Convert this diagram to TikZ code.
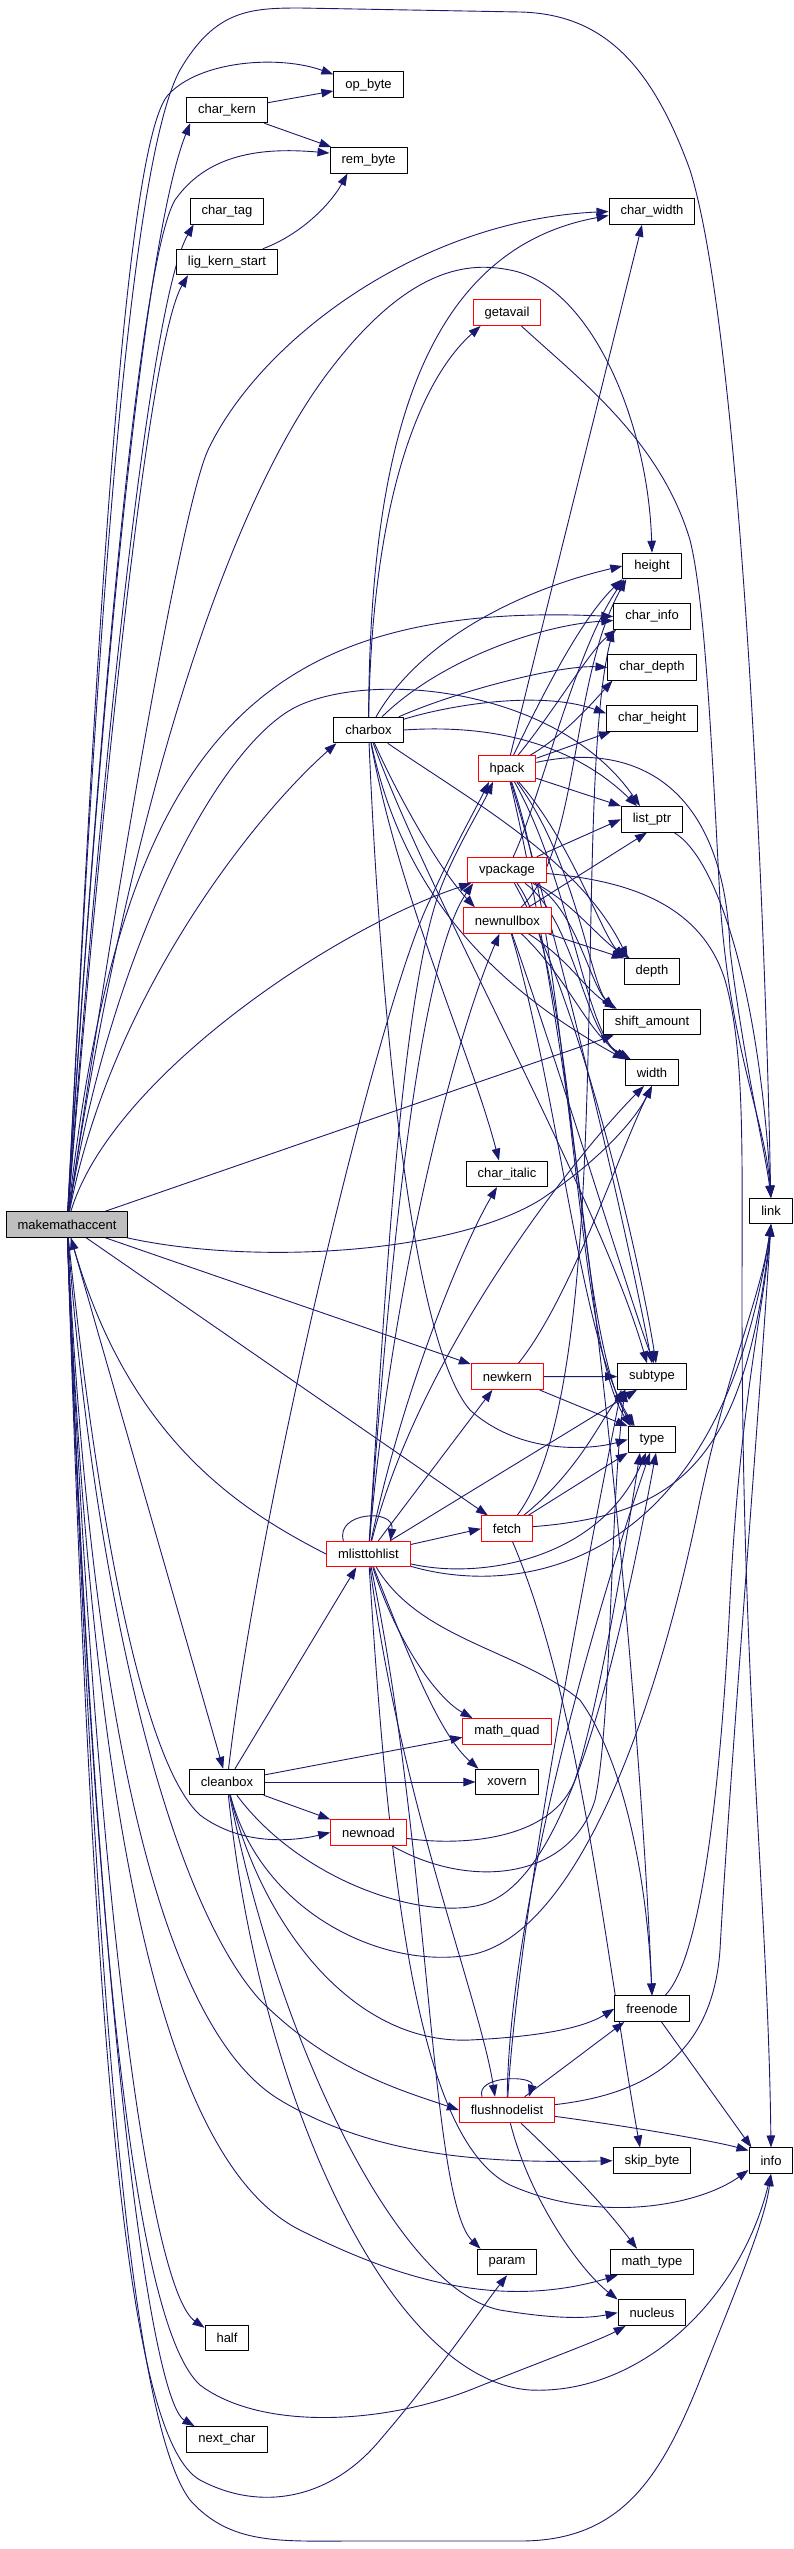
\documentclass[tikz,border=0pt]{standalone}
\usepackage{fontspec}
\setmainfont{Liberation Sans}
\usetikzlibrary{arrows.meta,backgrounds}
\definecolor{calledge}{HTML}{191970}
\definecolor{truncred}{HTML}{FF0000}
\definecolor{rootgrey}{HTML}{BFBFBF}

\begin{document}
\begin{tikzpicture}[
  x=1pt,
  y=-1pt,
  line join=round,
  fnbox/.style={draw=black,line width=1pt,fill=white,minimum height=25.5pt,
    inner xsep=11.5pt,inner ysep=2pt,font=\fontsize{13}{15}\selectfont},
  fntrunc/.style={fnbox,draw=truncred},
  fnroot/.style={fnbox,fill=rootgrey},
  callarrow/.style={draw=calledge,line width=0.9pt,-{Triangle[length=12pt,width=8.5pt]}}
]
  % Match the artwork frame.
  \useasboundingbox (0,0) rectangle (793,2549);

  % Root function and the column of its direct helpers.
  \node[fnroot] (mma) at (67,1224.5) {makemathaccent};
  \node[fnbox] (charkern) at (227,110) {char\_kern};
  \node[fnbox] (chartag) at (227,211.3) {char\_tag};
  \node[fnbox] (ligkern) at (227,262) {lig\_kern\_start};
  \node[fnbox] (cleanbox) at (227,1782) {cleanbox};
  \node[fnbox] (half) at (227,2338) {half};
  \node[fnbox] (nextchar) at (227,2439.3) {next\_char};

  % Middle columns.
  \node[fnbox] (opbyte) at (368.5,84.7) {op\_byte};
  \node[fnbox] (rembyte) at (368.6,160.3) {rem\_byte};
  \node[fnbox] (charbox) at (368.5,730) {charbox};
  \node[fntrunc] (mlist) at (368.4,1554) {mlisttohlist};
  \node[fntrunc] (newnoad) at (368.6,1832.5) {newnoad};
  \node[fntrunc] (getavail) at (507,312.7) {getavail};
  \node[fntrunc] (hpack) at (507,768.7) {hpack};
  \node[fntrunc] (vpackage) at (507,870) {vpackage};
  \node[fntrunc] (newnullbox) at (507.4,920.5) {newnullbox};
  \node[fnbox] (charitalic) at (507,1173.8) {char\_italic};
  \node[fntrunc] (newkern) at (507.4,1376.7) {newkern};
  \node[fntrunc] (fetch) at (507,1528.7) {fetch};
  \node[fntrunc] (mathquad) at (507,1731.3) {math\_quad};
  \node[fnbox] (xovern) at (507,1782) {xovern};
  \node[fntrunc] (flushlist) at (507,2110) {flushnodelist};
  \node[fnbox] (param) at (507,2262) {param};

  % Leaf accessors on the right.
  \node[fnbox] (charwidth) at (652,211.5) {char\_width};
  \node[fnbox] (height) at (652,566) {height};
  \node[fnbox] (charinfo) at (652,616.5) {char\_info};
  \node[fnbox] (chardepth) at (652,667.3) {char\_depth};
  \node[fnbox] (charheight) at (652,718.3) {char\_height};
  \node[fnbox] (listptr) at (652,819.3) {list\_ptr};
  \node[fnbox] (depth) at (652,971.5) {depth};
  \node[fnbox] (shiftamount) at (652,1022) {shift\_amount};
  \node[fnbox] (width) at (652,1072.7) {width};
  \node[fnbox] (subtype) at (652,1376.5) {subtype};
  \node[fnbox] (type) at (652,1439.5) {type};
  \node[fnbox] (freenode) at (652,2008.7) {freenode};
  \node[fnbox] (skipbyte) at (652,2160.7) {skip\_byte};
  \node[fnbox] (mathtype) at (652,2262) {math\_type};
  \node[fnbox] (nucleus) at (652,2312.7) {nucleus};
  \node[fnbox] (link) at (771,1211) {link};
  \node[fnbox] (info) at (771,2160.7) {info};

  \begin{scope}[on background layer]
  % Calls from makemathaccent going up.
  \draw[callarrow] (mma) .. controls (90,800) and (120,180) .. (180,70)
    .. controls (215,10) and (250,8) .. (300,8) -- (520,12)
    .. controls (600,14) and (650,60) .. (690,170)
    .. controls (740,330) and (765,900) .. (link);
  \draw[callarrow] (mma) .. controls (92,750) and (120,150) .. (168,95)
    .. controls (200,60) and (280,55) .. ([yshift=-3pt]opbyte.north west);
  \draw[callarrow] (mma) .. controls (97,750) and (140,250) .. ([xshift=4pt]charkern.south west);
  \draw[callarrow] (mma) .. controls (100,700) and (140,260) .. (175,200)
    .. controls (210,150) and (270,148) .. ([yshift=-6pt]rembyte.north west);
  \draw[callarrow] (mma) .. controls (103,750) and (150,300) .. ([xshift=4pt]chartag.south west);
  \draw[callarrow] (mma) .. controls (106,750) and (150,340) .. ([xshift=12pt]ligkern.south west);
  \draw[callarrow] (mma) .. controls (130,800) and (185,500) .. (208,450)
    .. controls (260,340) and (420,220) .. (charwidth.west);
  \draw[callarrow] (mma) .. controls (130,800) and (230,500) .. (330,370)
    .. controls (410,265) and (470,262) .. (510,270)
    .. controls (590,285) and (648,420) .. (height.north);
  \draw[callarrow] (mma) .. controls (120,750) and (250,600) .. (charinfo.west);
  \draw[callarrow] (mma) .. controls (110,1000) and (250,820) .. ([xshift=3pt]charbox.south west);
  \draw[callarrow] (mma) .. controls (110,950) and (220,740) .. (300,705)
    .. controls (380,670) and (560,690) .. ([xshift=-12pt]listptr.north);
  \draw[callarrow] (mma) .. controls (110,1080) and (330,930) .. ([xshift=4pt]vpackage.south west);
  \draw[callarrow] (mma) -- (shiftamount);
  \draw[callarrow] (mma) .. controls (250,1265) and (450,1255) .. (540,1200)
    .. controls (600,1160) and (635,1120) .. (width.south);
  \draw[callarrow] (mma) -- (newkern);
  \draw[callarrow] (mma) -- (fetch);

  % Calls from makemathaccent going down.
  \draw[callarrow] (mma) -- (cleanbox);
  \draw[callarrow] (mma) .. controls (95,1500) and (140,1760) .. (200,1815)
    .. controls (240,1845) and (290,1842) .. (newnoad.west);
  \draw[callarrow] (mma) .. controls (95,1600) and (170,1900) .. (260,2000)
    .. controls (330,2070) and (400,2090) .. (flushlist.west);
  \draw[callarrow] (mma) .. controls (95,1800) and (180,2040) .. (280,2100)
    .. controls (380,2160) and (500,2163) .. (skipbyte.west);
  \draw[callarrow] (mma) .. controls (95,2000) and (130,2420) .. (190,2500)
    .. controls (230,2545) and (280,2541) .. (350,2541) -- (520,2541)
    .. controls (620,2541) and (660,2480) .. (700,2380)
    .. controls (740,2280) and (765,2220) .. (info.south);
  \draw[callarrow] (mma) .. controls (95,1900) and (180,2170) .. (300,2230)
    .. controls (400,2280) and (500,2310) .. ([xshift=8pt]mathtype.south west);
  \draw[callarrow] (mma) .. controls (95,2000) and (140,2330) .. (200,2385)
    .. controls (260,2430) and (380,2425) .. (470,2390)
    .. controls (540,2362) and (600,2340) .. ([xshift=8pt]nucleus.south west);
  \draw[callarrow] (mma) .. controls (95,1900) and (150,2290) .. ([yshift=-3pt]half.north west);
  \draw[callarrow] (mma) .. controls (95,2000) and (150,2400) .. ([xshift=8pt]nextchar.north west);
  \draw[callarrow] (mma) .. controls (95,2100) and (130,2440) .. (200,2480)
    .. controls (260,2512) and (330,2500) .. (380,2440)
    .. controls (440,2370) and (480,2310) .. (param.south);

  % Font program helpers.
  \draw[callarrow] (charkern) -- (opbyte);
  \draw[callarrow] (charkern) -- (rembyte);
  \draw[callarrow] (ligkern) .. controls (300,235) and (330,205) .. ([xshift=18pt]rembyte.south west);
  \draw[callarrow] (getavail) .. controls (580,380) and (660,440) .. (690,540)
    .. controls (705,600) and (712,750) .. (720,900)
    .. controls (730,1050) and (765,1120) .. (link.north);

  % charbox
  \draw[callarrow] (charbox) .. controls (372,500) and (420,380) .. ([xshift=8pt]getavail.south west);
  \draw[callarrow] (charbox) .. controls (370,450) and (420,250) .. ([yshift=-4pt]charwidth.west);
  \draw[callarrow] (charbox) .. controls (420,640) and (520,590) .. (height.west);
  \draw[callarrow] (charbox) .. controls (440,660) and (540,625) .. ([yshift=-4pt]charinfo.west);
  \draw[callarrow] (charbox) .. controls (460,690) and (560,665) .. (chardepth.west);
  \draw[callarrow] (charbox) .. controls (450,705) and (540,690) .. ([yshift=5pt]charheight.west);
  \draw[callarrow] (charbox.east) .. controls (520,722) and (590,760) .. ([xshift=-15pt]listptr.north);
  \draw[callarrow] (charbox) .. controls (400,800) and (440,870) .. ([xshift=12pt]newnullbox.north west);
  \draw[callarrow] (charbox) .. controls (470,800) and (580,860) .. ([xshift=4pt]depth.north west);
  \draw[callarrow] (charbox) .. controls (400,880) and (480,980) .. (width.north west);
  \draw[callarrow] (charbox) .. controls (400,900) and (470,1050) .. ([xshift=-8pt]charitalic.north);
  \draw[callarrow] (charbox) .. controls (380,1000) and (410,1340) .. (470,1410)
    .. controls (520,1455) and (590,1450) .. (type.west);
  \draw[callarrow] (charbox) .. controls (430,900) and (600,1200) .. ([xshift=-5pt]subtype.north);

  % hpack
  \draw[callarrow] (hpack) -- ([xshift=-10pt]charwidth.south);
  \draw[callarrow] (hpack) .. controls (540,700) and (580,620) .. (height.south west);
  \draw[callarrow] (hpack) .. controls (555,710) and (590,650) .. ([xshift=3pt]charinfo.south west);
  \draw[callarrow] (hpack) .. controls (565,735) and (595,700) .. ([xshift=5pt]chardepth.south west);
  \draw[callarrow] (hpack) -- ([xshift=5pt]charheight.south west);
  \draw[callarrow] (hpack) -- (listptr.north west);
  \draw[callarrow] (hpack) .. controls (640,740) and (725,790) .. (730,950)
    .. controls (745,1070) and (765,1150) .. (link.north);
  \draw[callarrow] (hpack) .. controls (570,840) and (600,930) .. (depth.north west);
  \draw[callarrow] (hpack) .. controls (575,860) and (590,980) .. ([xshift=10pt]shiftamount.north west);
  \draw[callarrow] (hpack) .. controls (570,880) and (585,1030) .. ([xshift=2pt]width.north west);
  \draw[callarrow] (hpack) .. controls (570,950) and (575,1340) .. ([xshift=3pt]type.north west);
  \draw[callarrow] (hpack) .. controls (575,1000) and (630,1250) .. (subtype.north);
  \draw[callarrow] (hpack) .. controls (585,1100) and (640,1700) .. (freenode.north);

  % vpackage
  \draw[callarrow] (vpackage) .. controls (540,800) and (575,650) .. ([xshift=2pt]height.south west);
  \draw[callarrow] (vpackage) -- (listptr.west);
  \draw[callarrow] (vpackage) .. controls (620,880) and (700,900) .. (725,980)
    .. controls (745,1050) and (742,1150) .. (742,1300)
    .. controls (742,1700) and (768,1900) .. (info.north);
  \draw[callarrow] (vpackage) .. controls (570,900) and (600,940) .. ([xshift=6pt]depth.north west);
  \draw[callarrow] (vpackage) .. controls (575,905) and (590,985) .. ([xshift=12pt]shiftamount.north west);
  \draw[callarrow] (vpackage) .. controls (575,920) and (585,1035) .. ([xshift=4pt]width.north west);
  \draw[callarrow] (vpackage) .. controls (575,960) and (575,1330) .. ([xshift=5pt]type.north west);
  \draw[callarrow] (vpackage) .. controls (580,1000) and (640,1260) .. ([xshift=4pt]subtype.north);

  % newnullbox
  \draw[callarrow] (newnullbox) -- ([xshift=-5pt]listptr.south);
  \draw[callarrow] (newnullbox) .. controls (580,850) and (570,680) .. ([xshift=4pt]height.south west);
  \draw[callarrow] (newnullbox) -- (depth.north west);
  \draw[callarrow] (newnullbox) .. controls (570,960) and (585,990) .. ([xshift=14pt]shiftamount.north west);
  \draw[callarrow] (newnullbox) .. controls (570,980) and (588,1035) .. ([xshift=6pt]width.north west);
  \draw[callarrow] (newnullbox) .. controls (560,1100) and (580,1340) .. ([xshift=7pt]type.north west);
  \draw[callarrow] (newnullbox) .. controls (570,1100) and (630,1300) .. ([xshift=2pt]subtype.north);

  % newkern and fetch
  \draw[callarrow] (newkern) -- (subtype);
  \draw[callarrow] (newkern) -- (type.north west);
  \draw[callarrow] (newkern) .. controls (570,1300) and (620,1150) .. (width.south);
  \draw[callarrow] (fetch) -- (type.south west);
  \draw[callarrow] (fetch) .. controls (580,1470) and (600,1420) .. ([xshift=8pt]subtype.south west);
  \draw[callarrow] (fetch) .. controls (680,1515) and (745,1460) .. (link.south);
  \draw[callarrow] (fetch) .. controls (620,1380) and (570,800) .. (charinfo.south west);
  \draw[callarrow] (fetch) .. controls (580,1700) and (605,1950) .. ([xshift=-12pt]skipbyte.north);

  % mlisttohlist
  \draw[callarrow] ([xshift=-25pt]mlist.north) .. controls (335,1512) and (395,1508) .. ([xshift=22pt]mlist.north);
  \draw[callarrow] (mlist.west) .. controls (240,1510) and (130,1440) .. (mma);
  \draw[callarrow] (mlist) -- ([xshift=-15pt]newkern.south);
  \draw[callarrow] (mlist) -- (fetch.west);
  \draw[callarrow] (mlist) -- ([xshift=-15pt]subtype.south);
  \draw[callarrow] (mlist) .. controls (480,1580) and (600,1560) .. ([xshift=-6pt]type.south);
  \draw[callarrow] (mlist) .. controls (520,1598) and (720,1570) .. (link.south);
  \draw[callarrow] (mlist) .. controls (400,1400) and (460,1250) .. ([xshift=-10pt]charitalic.south);
  \draw[callarrow] (mlist) .. controls (385,1300) and (400,1000) .. (440,890)
    .. controls (455,850) and (480,810) .. ([xshift=-14pt]hpack.south);
  \draw[callarrow] (mlist) .. controls (390,1250) and (420,960) .. ([xshift=6pt]vpackage.south west);
  \draw[callarrow] (mlist) .. controls (390,1300) and (450,1050) .. ([xshift=-8pt]newnullbox.south);
  \draw[callarrow] (mlist) .. controls (420,1350) and (580,1150) .. ([xshift=-8pt]width.south);
  \draw[callarrow] (mlist) .. controls (400,1650) and (440,1700) .. ([xshift=10pt]mathquad.north west);
  \draw[callarrow] (mlist) .. controls (410,1660) and (440,1735) .. ([xshift=3pt]xovern.north west);
  \draw[callarrow] (mlist) .. controls (420,1640) and (520,1650) .. (580,1700)
    .. controls (630,1770) and (648,1900) .. (freenode.north);
  \draw[callarrow] (mlist) .. controls (400,1800) and (480,2000) .. ([xshift=-12pt]flushlist.north);
  \draw[callarrow] (mlist) .. controls (430,1850) and (430,2200) .. ([xshift=4pt]param.north west);
  \draw[callarrow] (mlist) .. controls (390,1900) and (420,2140) .. (510,2185)
    .. controls (600,2225) and (700,2205) .. ([yshift=4pt]info.south west);

  % cleanbox
  \draw[callarrow] (cleanbox) -- ([yshift=-6pt]mathquad.west);
  \draw[callarrow] (cleanbox) -- (xovern);
  \draw[callarrow] (cleanbox) -- (newnoad.north west);
  \draw[callarrow] (cleanbox) -- ([xshift=-12pt]mlist.south);
  \draw[callarrow] (cleanbox) .. controls (260,1500) and (380,1000) .. (430,900)
    .. controls (450,855) and (475,810) .. ([xshift=-18pt]hpack.south);
  \draw[callarrow] (cleanbox) .. controls (260,1920) and (350,2045) .. (470,2040)
    .. controls (530,2037) and (580,2030) .. (freenode.west);
  \draw[callarrow] (cleanbox) .. controls (300,1880) and (420,1920) .. (480,1905)
    .. controls (560,1885) and (610,1700) .. ([xshift=4pt]type.south);
  \draw[callarrow] (cleanbox) .. controls (260,1910) and (380,1970) .. (470,1955)
    .. controls (580,1935) and (660,1700) .. (700,1500)
    .. controls (730,1360) and (760,1300) .. (link.south);
  \draw[callarrow] (cleanbox) .. controls (280,2050) and (400,2290) .. (500,2310)
    .. controls (560,2320) and (590,2318) .. (nucleus.west);
  \draw[callarrow] (cleanbox) .. controls (260,2100) and (390,2380) .. (530,2390)
    .. controls (640,2395) and (740,2300) .. (info.south);

  % newnoad
  \draw[callarrow] (newnoad) .. controls (450,1845) and (550,1845) .. (575,1780)
    .. controls (600,1700) and (625,1550) .. ([xshift=-12pt]type.south);
  \draw[callarrow] (newnoad) .. controls (470,1890) and (570,1880) .. (595,1800)
    .. controls (612,1720) and (610,1500) .. ([xshift=8pt]subtype.south west);

  % flushnodelist and freenode
  \draw[callarrow] ([xshift=-25pt]flushlist.north) .. controls (475,2075) and (535,2075) .. ([xshift=22pt]flushlist.north);
  \draw[callarrow] (flushlist) -- ([xshift=10pt]freenode.south west);
  \draw[callarrow] (flushlist) .. controls (640,2095) and (712,2060) .. (720,1950)
    .. controls (728,1800) and (760,1400) .. (link.south);
  \draw[callarrow] (flushlist) .. controls (620,2125) and (710,2140) .. ([yshift=-3pt]info.north west);
  \draw[callarrow] (flushlist) .. controls (560,2160) and (600,2200) .. ([xshift=-15pt]mathtype.north);
  \draw[callarrow] (flushlist) .. controls (530,2200) and (580,2270) .. (nucleus.north west);
  \draw[callarrow] (flushlist) .. controls (510,1900) and (600,1600) .. ([xshift=-2pt]type.south);
  \draw[callarrow] (flushlist) .. controls (520,1900) and (590,1550) .. ([xshift=4pt]subtype.south west);
  \draw[callarrow] (freenode) .. controls (700,1960) and (720,1800) .. (730,1600)
    .. controls (740,1400) and (765,1300) .. (link.south);
  \draw[callarrow] (freenode) -- ([xshift=3pt]info.north west);
  \draw[callarrow] (listptr) .. controls (720,860) and (760,1000) .. (link.north);
  \end{scope}
\end{tikzpicture}
\end{document}
